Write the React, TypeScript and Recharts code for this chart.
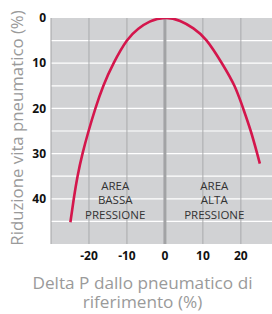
import React from "react";
import {
  LineChart,
  Line,
  XAxis,
  YAxis,
  ReferenceLine,
  ReferenceArea,
  ReferenceDot,
} from "recharts";

// Curve: tyre life reduction (%) vs pressure delta (%)
const deltaP = [-24.9, -24.0, -23.0, -21.7, -20.1, -18.3, -16.2, -13.5, -10.0, -7.0, -4.0, 0, 4.0, 7.5, 11.0, 15.0, 18.3, 20.6, 22.6, 24.3, 25.0];
const lifeReduction = [45.2, 40, 35, 30, 25, 20, 15, 10, 5, 2.4, 0.8, 0, 0.65, 2.3, 5, 10, 15, 20, 25, 30, 32.2];

const xTicks = [-20, -10, 0, 10, 20];
const yTicks = [0, 10, 20, 30, 40];
const hGrid = [5, 10, 15, 20, 25, 30, 35, 40, 45];
const vGrid = [-20, -10, 10, 20];
const xDomain = [-30, 28.2];
const yDomain = [0, 50];

const lowArea = { x: -13.1, y: 40.3, lines: ["AREA", "BASSA", "PRESSIONE"] };
const highArea = { x: 13.0, y: 40.3, lines: ["AREA", "ALTA", "PRESSIONE"] };

const yTitle = "Riduzione vita pneumatico (%)";
const xTitle = ["Delta P dallo pneumatico di", "riferimento (%)"];

const data = deltaP.map((x, i) => ({ x, y: lifeReduction[i] }));

const FONT = "'Open Sans', 'Noto Sans', sans-serif";

const areaLabel = (lines: string[]) => (props: any) => {
  const vb = props.viewBox || {};
  const cx = (vb.x || 0) + (vb.width || 0) / 2;
  const cy = (vb.y || 0) + (vb.height || 0) / 2;
  return (
    <text
      x={cx}
      y={cy}
      textAnchor="middle"
      fontFamily={FONT}
      fontSize={11.5}
      fill="#333333"
    >
      {lines.map((l, i) => (
        <tspan key={i} x={cx} y={cy + (i - 1) * 14.5 + 4}>
          {l}
        </tspan>
      ))}
    </text>
  );
};

const YTitle = (props: any) => {
  const vb = props.viewBox || {};
  const cx = 16;
  const cy = (vb.y || 0) + (vb.height || 0) / 2 - 3;
  return (
    <text
      x={cx}
      y={cy}
      transform={`rotate(-90, ${cx}, ${cy})`}
      textAnchor="middle"
      dominantBaseline="central"
      fontFamily={FONT}
      fontWeight={400}
      fontSize={16.8}
      fill="#9a9a9a"
    >
      {yTitle}
    </text>
  );
};

const XTitle = (props: any) => {
  const vb = props.viewBox || {};
  const cx = (vb.x || 0) + (vb.width || 0) / 2 - 19;
  const top = vb.y || 0;
  return (
    <text
      textAnchor="middle"
      fontFamily={FONT}
      fontWeight={400}
      fontSize={17.2}
      fill="#9a9a9a"
    >
      <tspan x={cx} y={top + 45}>
        {xTitle[0]}
      </tspan>
      <tspan x={cx} y={top + 64}>
        {xTitle[1]}
      </tspan>
    </text>
  );
};

export default function App() {
  return (
    <div style={{ position: "absolute", left: 0, top: 0 }}>
      <LineChart
        width={272}
        height={314}
        data={data}
        margin={{ top: 18, right: 0, bottom: 0, left: 0 }}
      >
        <XAxis
          dataKey="x"
          type="number"
          domain={xDomain}
          ticks={xTicks}
          allowDataOverflow
          axisLine={false}
          tickLine={false}
          tickSize={0}
          tickMargin={7}
          height={70}
          tick={{ fontFamily: FONT, fontWeight: 700, fontSize: 12, fill: "#111" }}
          label={{ content: XTitle }}
        />
        <YAxis
          dataKey="y"
          type="number"
          domain={yDomain}
          reversed
          ticks={yTicks}
          allowDataOverflow
          axisLine={{ stroke: "#a3a3a5", strokeWidth: 1 }}
          tickLine={false}
          tickSize={0}
          tickMargin={5}
          width={51}
          tick={{ fontFamily: FONT, fontWeight: 700, fontSize: 12, fill: "#111" }}
          label={{ content: YTitle }}
        />
        <ReferenceArea
          x1={xDomain[0]}
          x2={xDomain[1]}
          y1={yDomain[0]}
          y2={yDomain[1]}
          fill="#d1d2d4"
          fillOpacity={1}
          stroke="none"
        />
        {hGrid.map((v) => (
          <ReferenceLine key={"h" + v} y={v} stroke="#ffffff" strokeWidth={1.2} />
        ))}
        {vGrid.map((v) => (
          <ReferenceLine key={"v" + v} x={v} stroke="#a9aaac" strokeWidth={1} />
        ))}
        <ReferenceLine x={0} stroke="#a2a3a5" strokeWidth={3} />
        <ReferenceDot
          x={lowArea.x}
          y={lowArea.y}
          r={0}
          fill="none"
          stroke="none"
          label={{ content: areaLabel(lowArea.lines) }}
        />
        <ReferenceDot
          x={highArea.x}
          y={highArea.y}
          r={0}
          fill="none"
          stroke="none"
          label={{ content: areaLabel(highArea.lines) }}
        />
        <Line
          dataKey="y"
          type="natural"
          stroke="#d4164c"
          strokeWidth={2.6}
          dot={false}
          isAnimationActive={false}
        />
      </LineChart>
    </div>
  );
}
